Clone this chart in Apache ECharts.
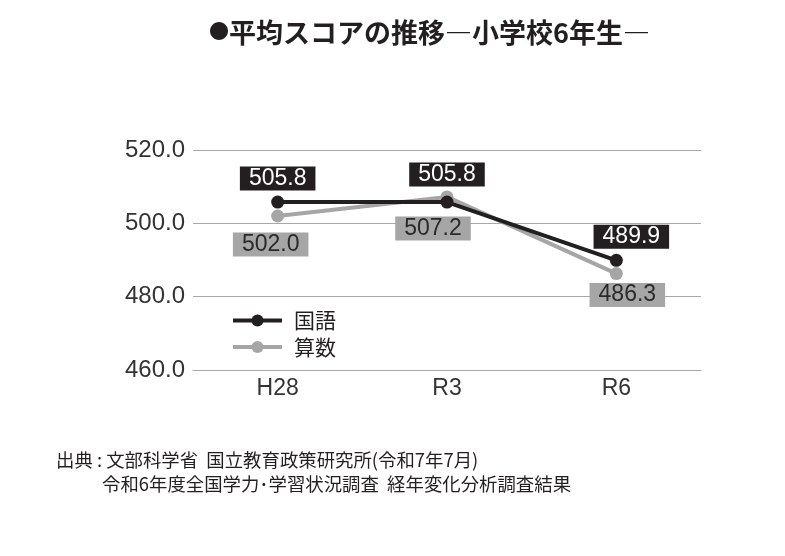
<!DOCTYPE html>
<html>
<head>
<meta charset="utf-8">
<script src="https://cdn.jsdelivr.net/npm/echarts@6/dist/echarts.min.js"></script>
<style>
  html, body { margin: 0; padding: 0; background: #fff; }
  #chart { width: 785px; height: 556px; }
</style>
</head>
<body>
<div id="chart"></div>
<script>
// data
const categories = ['H28', 'R3', 'R6'];
const kokugo = [505.8, 505.8, 489.9];
const sansu = [502.0, 507.2, 486.3];
const yTicks = [460, 480, 500, 520];

const FONT = '"Liberation Sans", "Noto Sans CJK JP", sans-serif';
const JP = '"Noto Sans CJK JP", "Liberation Sans", sans-serif';

window.onload = function () {
    const chart = echarts.init(document.getElementById('chart'));

    // label nudges per point: [dx, dy]
    const blackNudge = [[0, 0], [0, -4], [15, 0]];
    const grayNudge = [[-7, 0], [-14, 3], [11, -7]];

    const labelBase = {
        show: true,
        formatter: p => p.value.toFixed(1),
        fontFamily: FONT,
        fontSize: 23,
        lineHeight: 20,
        padding: [2, 9, 2, 9]
    };

    const option = {
        animation: false,
        title: {
            text: '{dot|●}平均スコアの推移―小学校6年生―',
            left: 204,
            top: 14,
            textStyle: {
                fontFamily: JP, fontSize: 27, fontWeight: 'bold', color: '#231f20',
                rich: {
                    dot: { fontFamily: JP, fontSize: 20, fontWeight: 'bold', color: '#231f20', padding: [0, 0, 2, 0] }
                }
            }
        },
        grid: { left: 193, right: 84, top: 150, bottom: 186 },
        legend: {
            orient: 'vertical',
            left: 231,
            top: 310,
            padding: 0,
            itemWidth: 49,
            itemHeight: 15,
            itemGap: 5.5,
            lineStyle: { width: 'inherit' },
            textStyle: { fontFamily: JP, fontSize: 21, lineHeight: 21, color: '#231f20', padding: [0, 0, 0, 7] },
            data: ['国語', '算数']
        },
        xAxis: {
            type: 'category',
            data: categories,
            boundaryGap: true,
            axisLine: { lineStyle: { color: '#a8a8a8', width: 1 } },
            axisTick: { show: false },
            axisLabel: { fontFamily: FONT, fontSize: 23, color: '#333', margin: 7 }
        },
        yAxis: {
            type: 'value',
            min: yTicks[0],
            max: yTicks[yTicks.length - 1],
            interval: yTicks[1] - yTicks[0],
            axisLine: { show: false },
            axisTick: { show: false },
            splitLine: { lineStyle: { color: '#a8a8a8', width: 1 } },
            axisLabel: {
                fontFamily: FONT, fontSize: 24, color: '#333', margin: 8,
                formatter: v => v.toFixed(1)
            }
        },
        series: [
            {
                name: '国語',
                type: 'line',
                z: 3,
                symbol: 'circle',
                symbolSize: 13,
                lineStyle: { color: '#231f20', width: 4 },
                itemStyle: { color: '#231f20' },
                data: kokugo.map((v, i) => ({
                    value: v,
                    label: Object.assign({}, labelBase, {
                        position: 'top',
                        distance: 5,
                        offset: blackNudge[i],
                        color: '#fff',
                        backgroundColor: '#231f20'
                    })
                }))
            },
            {
                name: '算数',
                type: 'line',
                z: 2,
                symbol: 'circle',
                symbolSize: 13,
                lineStyle: { color: '#a6a6a6', width: 4 },
                itemStyle: { color: '#a6a6a6' },
                data: sansu.map((v, i) => ({
                    value: v,
                    label: Object.assign({}, labelBase, {
                        position: 'bottom',
                        distance: 10,
                        offset: grayNudge[i],
                        color: '#2a2a2a',
                        backgroundColor: '#a6a6a6'
                    })
                }))
            }
        ],
        graphic: [
            {
                type: 'text',
                left: 56,
                top: 451,
                style: { text: '出典 : 文部科学省  国立教育政策研究所(令和7年7月)', font: '18.4px ' + JP, fill: '#231f20' }
            },
            {
                type: 'text',
                left: 102,
                top: 475,
                style: { text: '令和6年度全国学力･学習状況調査  経年変化分析調査結果', font: '18.4px ' + JP, fill: '#231f20' }
            }
        ]
    };

    chart.setOption(option);
};
</script>
</body>
</html>
